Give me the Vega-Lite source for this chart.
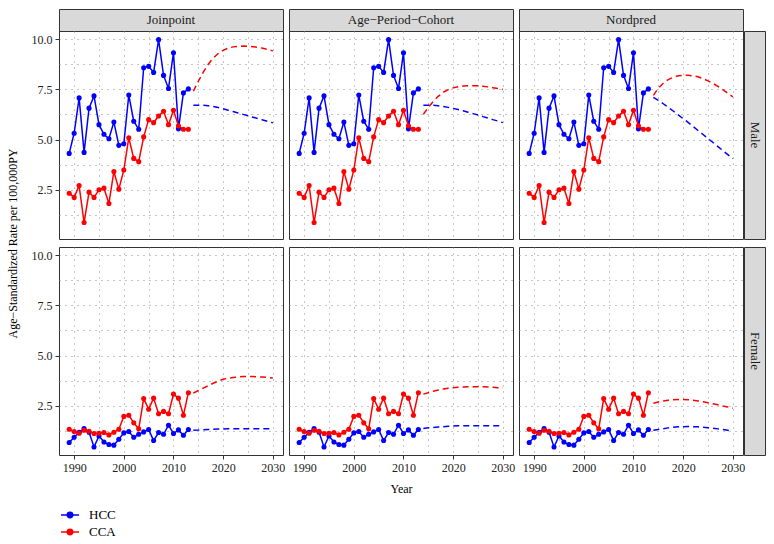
{
  "$schema": "https://vega.github.io/schema/vega-lite/v6.json",
  "padding": {"left": 5, "top": 8, "right": 5, "bottom": 5},
  "background": "white",
  "data": {"values": [
    {"model":"Observed","sex":"Male","year":1989,"HCC":4.31,"CCA":2.33},
    {"model":"Observed","sex":"Male","year":1990,"HCC":5.31,"CCA":2.12},
    {"model":"Observed","sex":"Male","year":1991,"HCC":7.07,"CCA":2.71},
    {"model":"Observed","sex":"Male","year":1992,"HCC":4.36,"CCA":0.87},
    {"model":"Observed","sex":"Male","year":1993,"HCC":6.56,"CCA":2.38},
    {"model":"Observed","sex":"Male","year":1994,"HCC":7.17,"CCA":2.12},
    {"model":"Observed","sex":"Male","year":1995,"HCC":5.74,"CCA":2.50},
    {"model":"Observed","sex":"Male","year":1996,"HCC":5.26,"CCA":2.58},
    {"model":"Observed","sex":"Male","year":1997,"HCC":5.04,"CCA":1.82},
    {"model":"Observed","sex":"Male","year":1998,"HCC":5.87,"CCA":3.41},
    {"model":"Observed","sex":"Male","year":1999,"HCC":4.71,"CCA":2.53},
    {"model":"Observed","sex":"Male","year":2000,"HCC":4.79,"CCA":3.48},
    {"model":"Observed","sex":"Male","year":2001,"HCC":7.21,"CCA":5.09},
    {"model":"Observed","sex":"Male","year":2002,"HCC":5.91,"CCA":4.06},
    {"model":"Observed","sex":"Male","year":2003,"HCC":5.51,"CCA":3.90},
    {"model":"Observed","sex":"Male","year":2004,"HCC":8.57,"CCA":5.13},
    {"model":"Observed","sex":"Male","year":2005,"HCC":8.64,"CCA":5.99},
    {"model":"Observed","sex":"Male","year":2006,"HCC":8.34,"CCA":5.84},
    {"model":"Observed","sex":"Male","year":2007,"HCC":9.97,"CCA":6.17},
    {"model":"Observed","sex":"Male","year":2008,"HCC":8.19,"CCA":6.41},
    {"model":"Observed","sex":"Male","year":2009,"HCC":7.54,"CCA":5.74},
    {"model":"Observed","sex":"Male","year":2010,"HCC":9.32,"CCA":6.46},
    {"model":"Observed","sex":"Male","year":2011,"HCC":5.53,"CCA":5.68},
    {"model":"Observed","sex":"Male","year":2012,"HCC":7.32,"CCA":5.51},
    {"model":"Observed","sex":"Male","year":2013,"HCC":7.52,"CCA":5.51},
    {"model":"Observed","sex":"Female","year":1989,"HCC":0.67,"CCA":1.33},
    {"model":"Observed","sex":"Female","year":1990,"HCC":0.93,"CCA":1.22},
    {"model":"Observed","sex":"Female","year":1991,"HCC":1.18,"CCA":1.13},
    {"model":"Observed","sex":"Female","year":1992,"HCC":1.37,"CCA":1.28},
    {"model":"Observed","sex":"Female","year":1993,"HCC":1.18,"CCA":1.23},
    {"model":"Observed","sex":"Female","year":1994,"HCC":0.45,"CCA":1.12},
    {"model":"Observed","sex":"Female","year":1995,"HCC":1.00,"CCA":1.13},
    {"model":"Observed","sex":"Female","year":1996,"HCC":0.70,"CCA":1.17},
    {"model":"Observed","sex":"Female","year":1997,"HCC":0.57,"CCA":1.05},
    {"model":"Observed","sex":"Female","year":1998,"HCC":0.54,"CCA":1.18},
    {"model":"Observed","sex":"Female","year":1999,"HCC":0.83,"CCA":1.33},
    {"model":"Observed","sex":"Female","year":2000,"HCC":1.15,"CCA":1.97},
    {"model":"Observed","sex":"Female","year":2001,"HCC":1.22,"CCA":2.03},
    {"model":"Observed","sex":"Female","year":2002,"HCC":0.93,"CCA":1.65},
    {"model":"Observed","sex":"Female","year":2003,"HCC":1.08,"CCA":1.35},
    {"model":"Observed","sex":"Female","year":2004,"HCC":1.20,"CCA":2.86},
    {"model":"Observed","sex":"Female","year":2005,"HCC":1.32,"CCA":2.33},
    {"model":"Observed","sex":"Female","year":2006,"HCC":0.77,"CCA":2.88},
    {"model":"Observed","sex":"Female","year":2007,"HCC":1.17,"CCA":2.10},
    {"model":"Observed","sex":"Female","year":2008,"HCC":1.08,"CCA":2.22},
    {"model":"Observed","sex":"Female","year":2009,"HCC":1.53,"CCA":2.10},
    {"model":"Observed","sex":"Female","year":2010,"HCC":1.12,"CCA":3.08},
    {"model":"Observed","sex":"Female","year":2011,"HCC":1.30,"CCA":2.88},
    {"model":"Observed","sex":"Female","year":2012,"HCC":1.03,"CCA":2.03},
    {"model":"Observed","sex":"Female","year":2013,"HCC":1.32,"CCA":3.15},

    {"model":"Joinpoint","sex":"Male","year":2014,"HCC":6.71,"CCA":7.40},
    {"model":"Joinpoint","sex":"Male","year":2015,"HCC":6.71,"CCA":7.90},
    {"model":"Joinpoint","sex":"Male","year":2016,"HCC":6.70,"CCA":8.35},
    {"model":"Joinpoint","sex":"Male","year":2017,"HCC":6.68,"CCA":8.75},
    {"model":"Joinpoint","sex":"Male","year":2018,"HCC":6.64,"CCA":9.05},
    {"model":"Joinpoint","sex":"Male","year":2019,"HCC":6.59,"CCA":9.28},
    {"model":"Joinpoint","sex":"Male","year":2020,"HCC":6.53,"CCA":9.44},
    {"model":"Joinpoint","sex":"Male","year":2021,"HCC":6.46,"CCA":9.55},
    {"model":"Joinpoint","sex":"Male","year":2022,"HCC":6.39,"CCA":9.61},
    {"model":"Joinpoint","sex":"Male","year":2023,"HCC":6.32,"CCA":9.64},
    {"model":"Joinpoint","sex":"Male","year":2024,"HCC":6.25,"CCA":9.65},
    {"model":"Joinpoint","sex":"Male","year":2025,"HCC":6.18,"CCA":9.64},
    {"model":"Joinpoint","sex":"Male","year":2026,"HCC":6.11,"CCA":9.62},
    {"model":"Joinpoint","sex":"Male","year":2027,"HCC":6.04,"CCA":9.59},
    {"model":"Joinpoint","sex":"Male","year":2028,"HCC":5.97,"CCA":9.54},
    {"model":"Joinpoint","sex":"Male","year":2029,"HCC":5.90,"CCA":9.48},
    {"model":"Joinpoint","sex":"Male","year":2030,"HCC":5.83,"CCA":9.41},

    {"model":"Age−Period−Cohort","sex":"Male","year":2014,"HCC":6.71,"CCA":6.25},
    {"model":"Age−Period−Cohort","sex":"Male","year":2015,"HCC":6.71,"CCA":6.60},
    {"model":"Age−Period−Cohort","sex":"Male","year":2016,"HCC":6.70,"CCA":6.90},
    {"model":"Age−Period−Cohort","sex":"Male","year":2017,"HCC":6.68,"CCA":7.15},
    {"model":"Age−Period−Cohort","sex":"Male","year":2018,"HCC":6.64,"CCA":7.35},
    {"model":"Age−Period−Cohort","sex":"Male","year":2019,"HCC":6.60,"CCA":7.48},
    {"model":"Age−Period−Cohort","sex":"Male","year":2020,"HCC":6.55,"CCA":7.57},
    {"model":"Age−Period−Cohort","sex":"Male","year":2021,"HCC":6.49,"CCA":7.63},
    {"model":"Age−Period−Cohort","sex":"Male","year":2022,"HCC":6.43,"CCA":7.66},
    {"model":"Age−Period−Cohort","sex":"Male","year":2023,"HCC":6.36,"CCA":7.68},
    {"model":"Age−Period−Cohort","sex":"Male","year":2024,"HCC":6.29,"CCA":7.68},
    {"model":"Age−Period−Cohort","sex":"Male","year":2025,"HCC":6.22,"CCA":7.67},
    {"model":"Age−Period−Cohort","sex":"Male","year":2026,"HCC":6.14,"CCA":7.65},
    {"model":"Age−Period−Cohort","sex":"Male","year":2027,"HCC":6.07,"CCA":7.62},
    {"model":"Age−Period−Cohort","sex":"Male","year":2028,"HCC":5.99,"CCA":7.58},
    {"model":"Age−Period−Cohort","sex":"Male","year":2029,"HCC":5.92,"CCA":7.54},
    {"model":"Age−Period−Cohort","sex":"Male","year":2030,"HCC":5.84,"CCA":7.49},

    {"model":"Nordpred","sex":"Male","year":2014,"HCC":7.10,"CCA":7.20},
    {"model":"Nordpred","sex":"Male","year":2015,"HCC":6.95,"CCA":7.55},
    {"model":"Nordpred","sex":"Male","year":2016,"HCC":6.78,"CCA":7.80},
    {"model":"Nordpred","sex":"Male","year":2017,"HCC":6.60,"CCA":7.98},
    {"model":"Nordpred","sex":"Male","year":2018,"HCC":6.42,"CCA":8.10},
    {"model":"Nordpred","sex":"Male","year":2019,"HCC":6.23,"CCA":8.17},
    {"model":"Nordpred","sex":"Male","year":2020,"HCC":6.04,"CCA":8.20},
    {"model":"Nordpred","sex":"Male","year":2021,"HCC":5.85,"CCA":8.20},
    {"model":"Nordpred","sex":"Male","year":2022,"HCC":5.65,"CCA":8.17},
    {"model":"Nordpred","sex":"Male","year":2023,"HCC":5.45,"CCA":8.12},
    {"model":"Nordpred","sex":"Male","year":2024,"HCC":5.25,"CCA":8.03},
    {"model":"Nordpred","sex":"Male","year":2025,"HCC":5.05,"CCA":7.92},
    {"model":"Nordpred","sex":"Male","year":2026,"HCC":4.85,"CCA":7.79},
    {"model":"Nordpred","sex":"Male","year":2027,"HCC":4.65,"CCA":7.65},
    {"model":"Nordpred","sex":"Male","year":2028,"HCC":4.45,"CCA":7.48},
    {"model":"Nordpred","sex":"Male","year":2029,"HCC":4.25,"CCA":7.30},
    {"model":"Nordpred","sex":"Male","year":2030,"HCC":4.05,"CCA":7.12},

    {"model":"Joinpoint","sex":"Female","year":2014,"HCC":1.28,"CCA":3.13},
    {"model":"Joinpoint","sex":"Female","year":2015,"HCC":1.29,"CCA":3.26},
    {"model":"Joinpoint","sex":"Female","year":2016,"HCC":1.31,"CCA":3.38},
    {"model":"Joinpoint","sex":"Female","year":2017,"HCC":1.32,"CCA":3.50},
    {"model":"Joinpoint","sex":"Female","year":2018,"HCC":1.33,"CCA":3.62},
    {"model":"Joinpoint","sex":"Female","year":2019,"HCC":1.34,"CCA":3.73},
    {"model":"Joinpoint","sex":"Female","year":2020,"HCC":1.34,"CCA":3.82},
    {"model":"Joinpoint","sex":"Female","year":2021,"HCC":1.35,"CCA":3.87},
    {"model":"Joinpoint","sex":"Female","year":2022,"HCC":1.35,"CCA":3.91},
    {"model":"Joinpoint","sex":"Female","year":2023,"HCC":1.35,"CCA":3.93},
    {"model":"Joinpoint","sex":"Female","year":2024,"HCC":1.35,"CCA":3.95},
    {"model":"Joinpoint","sex":"Female","year":2025,"HCC":1.35,"CCA":3.95},
    {"model":"Joinpoint","sex":"Female","year":2026,"HCC":1.35,"CCA":3.95},
    {"model":"Joinpoint","sex":"Female","year":2027,"HCC":1.35,"CCA":3.94},
    {"model":"Joinpoint","sex":"Female","year":2028,"HCC":1.35,"CCA":3.93},
    {"model":"Joinpoint","sex":"Female","year":2029,"HCC":1.35,"CCA":3.91},
    {"model":"Joinpoint","sex":"Female","year":2030,"HCC":1.35,"CCA":3.88},

    {"model":"Age−Period−Cohort","sex":"Female","year":2014,"HCC":1.37,"CCA":3.08},
    {"model":"Age−Period−Cohort","sex":"Female","year":2015,"HCC":1.40,"CCA":3.15},
    {"model":"Age−Period−Cohort","sex":"Female","year":2016,"HCC":1.42,"CCA":3.22},
    {"model":"Age−Period−Cohort","sex":"Female","year":2017,"HCC":1.44,"CCA":3.28},
    {"model":"Age−Period−Cohort","sex":"Female","year":2018,"HCC":1.46,"CCA":3.33},
    {"model":"Age−Period−Cohort","sex":"Female","year":2019,"HCC":1.48,"CCA":3.37},
    {"model":"Age−Period−Cohort","sex":"Female","year":2020,"HCC":1.49,"CCA":3.40},
    {"model":"Age−Period−Cohort","sex":"Female","year":2021,"HCC":1.50,"CCA":3.42},
    {"model":"Age−Period−Cohort","sex":"Female","year":2022,"HCC":1.50,"CCA":3.43},
    {"model":"Age−Period−Cohort","sex":"Female","year":2023,"HCC":1.51,"CCA":3.44},
    {"model":"Age−Period−Cohort","sex":"Female","year":2024,"HCC":1.51,"CCA":3.45},
    {"model":"Age−Period−Cohort","sex":"Female","year":2025,"HCC":1.51,"CCA":3.45},
    {"model":"Age−Period−Cohort","sex":"Female","year":2026,"HCC":1.51,"CCA":3.44},
    {"model":"Age−Period−Cohort","sex":"Female","year":2027,"HCC":1.51,"CCA":3.43},
    {"model":"Age−Period−Cohort","sex":"Female","year":2028,"HCC":1.50,"CCA":3.42},
    {"model":"Age−Period−Cohort","sex":"Female","year":2029,"HCC":1.50,"CCA":3.40},
    {"model":"Age−Period−Cohort","sex":"Female","year":2030,"HCC":1.50,"CCA":3.38},

    {"model":"Nordpred","sex":"Female","year":2014,"HCC":1.28,"CCA":2.63},
    {"model":"Nordpred","sex":"Female","year":2015,"HCC":1.32,"CCA":2.69},
    {"model":"Nordpred","sex":"Female","year":2016,"HCC":1.36,"CCA":2.74},
    {"model":"Nordpred","sex":"Female","year":2017,"HCC":1.40,"CCA":2.78},
    {"model":"Nordpred","sex":"Female","year":2018,"HCC":1.43,"CCA":2.80},
    {"model":"Nordpred","sex":"Female","year":2019,"HCC":1.45,"CCA":2.81},
    {"model":"Nordpred","sex":"Female","year":2020,"HCC":1.46,"CCA":2.81},
    {"model":"Nordpred","sex":"Female","year":2021,"HCC":1.47,"CCA":2.80},
    {"model":"Nordpred","sex":"Female","year":2022,"HCC":1.46,"CCA":2.77},
    {"model":"Nordpred","sex":"Female","year":2023,"HCC":1.45,"CCA":2.74},
    {"model":"Nordpred","sex":"Female","year":2024,"HCC":1.43,"CCA":2.70},
    {"model":"Nordpred","sex":"Female","year":2025,"HCC":1.41,"CCA":2.65},
    {"model":"Nordpred","sex":"Female","year":2026,"HCC":1.38,"CCA":2.60},
    {"model":"Nordpred","sex":"Female","year":2027,"HCC":1.35,"CCA":2.55},
    {"model":"Nordpred","sex":"Female","year":2028,"HCC":1.32,"CCA":2.49},
    {"model":"Nordpred","sex":"Female","year":2029,"HCC":1.28,"CCA":2.44},
    {"model":"Nordpred","sex":"Female","year":2030,"HCC":1.25,"CCA":2.38}
  ]},
  "columns": 6,
  "spacing": {"row": 0, "column": 1},
  "bounds": "flush",
  "align": "each",
  "concat": [
    {"width":224,"height":22,"data":{"values":[{"label":"Joinpoint"}]},"view":{"fill":"#D9D9D9","stroke":"#333333"},"mark":{"type":"text","font":"Liberation Serif","fontSize":13,"color":"#1A1A1A"},"encoding":{"text":{"field":"label"}}},
    {"width":4,"height":8,"data":{"values":[]},"mark":"point","encoding":{}},
    {"width":224,"height":22,"data":{"values":[{"label":"Age−Period−Cohort"}]},"view":{"fill":"#D9D9D9","stroke":"#333333"},"mark":{"type":"text","font":"Liberation Serif","fontSize":13,"color":"#1A1A1A"},"encoding":{"text":{"field":"label"}}},
    {"width":4,"height":8,"data":{"values":[]},"mark":"point","encoding":{}},
    {"width":224,"height":22,"data":{"values":[{"label":"Nordpred"}]},"view":{"fill":"#D9D9D9","stroke":"#333333"},"mark":{"type":"text","font":"Liberation Serif","fontSize":13,"color":"#1A1A1A"},"encoding":{"text":{"field":"label"}}},
    {"width":4,"height":8,"data":{"values":[]},"mark":"point","encoding":{}},

    {"width":224,"height":208,"view":{"stroke":"#333333"},
     "transform":[{"filter":"datum.sex == 'Male' && (datum.model == 'Observed' || datum.model == 'Joinpoint')"},{"fold":["HCC","CCA"],"as":["type","rate"]}],
     "encoding":{
       "x":{"field":"year","type":"quantitative","scale":{"domain":[1986.95,2032.05],"nice":false,"zero":false},"axis":{"values":[1990,1995,2000,2005,2010,2015,2020,2025,2030],"labels":false,"ticks":false,"title":null}},
       "y":{"field":"rate","type":"quantitative","scale":{"domain":[0.05,10.4],"nice":false,"zero":false},"axis":{"values":[1.25,2.5,3.75,5,6.25,7.5,8.75,10],"format":".1f","labelExpr":"datum.value % 2.5 == 0 ? datum.label : ''","tickOpacity":{"condition":{"test":"datum.value % 2.5 != 0","value":0},"value":1},"title":"Age−Standardized Rate per 100,000PY","titleY":212,"titlePadding":12}},
       "color":{"field":"type","type":"nominal","scale":{"domain":["HCC","CCA"],"range":["#0000FF","#FF0000"]},
         "legend":{"orient":"none","legendX":1,"legendY":496,"title":null,"direction":"vertical","symbolType":"M-1,0L1,0M-0.3,0A0.3,0.3,0,1,1,0.3,0A0.3,0.3,0,1,1,-0.3,0Z","symbolSize":324,"symbolStrokeWidth":1.5,"labelFont":"Liberation Serif","labelFontSize":13,"labelColor":"#000000","labelOffset":9,"rowPadding":0,"padding":0,
           "encode":{"symbols":{"update":{"fill":{"scale":"color","field":"value"},"stroke":{"scale":"color","field":"value"},"opacity":{"value":1}}}}}}
     },
     "layer":[
       {"transform":[{"filter":"datum.model == 'Observed'"}],"mark":{"type":"line","strokeWidth":1.5}},
       {"transform":[{"filter":"datum.model != 'Observed'"}],"mark":{"type":"line","strokeWidth":1.5,"strokeDash":[6,4]}},
       {"transform":[{"filter":"datum.model == 'Observed'"}],"mark":{"type":"point","filled":true,"size":26,"opacity":1}}
     ]},
    {"width":4,"height":8,"data":{"values":[]},"mark":"point","encoding":{}},
    {"width":224,"height":208,"view":{"stroke":"#333333"},
     "transform":[{"filter":"datum.sex == 'Male' && (datum.model == 'Observed' || datum.model == 'Age−Period−Cohort')"},{"fold":["HCC","CCA"],"as":["type","rate"]}],
     "encoding":{
       "x":{"field":"year","type":"quantitative","scale":{"domain":[1986.95,2032.05],"nice":false,"zero":false},"axis":{"values":[1990,1995,2000,2005,2010,2015,2020,2025,2030],"labels":false,"ticks":false,"title":null}},
       "y":{"field":"rate","type":"quantitative","scale":{"domain":[0.05,10.4],"nice":false,"zero":false},"axis":{"values":[1.25,2.5,3.75,5,6.25,7.5,8.75,10],"labels":false,"ticks":false,"title":null}},
       "color":{"field":"type","type":"nominal","scale":{"domain":["HCC","CCA"],"range":["#0000FF","#FF0000"]}}
     },
     "layer":[
       {"transform":[{"filter":"datum.model == 'Observed'"}],"mark":{"type":"line","strokeWidth":1.5}},
       {"transform":[{"filter":"datum.model != 'Observed'"}],"mark":{"type":"line","strokeWidth":1.5,"strokeDash":[6,4]}},
       {"transform":[{"filter":"datum.model == 'Observed'"}],"mark":{"type":"point","filled":true,"size":26,"opacity":1}}
     ]},
    {"width":4,"height":8,"data":{"values":[]},"mark":"point","encoding":{}},
    {"width":224,"height":208,"view":{"stroke":"#333333"},
     "transform":[{"filter":"datum.sex == 'Male' && (datum.model == 'Observed' || datum.model == 'Nordpred')"},{"fold":["HCC","CCA"],"as":["type","rate"]}],
     "encoding":{
       "x":{"field":"year","type":"quantitative","scale":{"domain":[1986.95,2032.05],"nice":false,"zero":false},"axis":{"values":[1990,1995,2000,2005,2010,2015,2020,2025,2030],"labels":false,"ticks":false,"title":null}},
       "y":{"field":"rate","type":"quantitative","scale":{"domain":[0.05,10.4],"nice":false,"zero":false},"axis":{"values":[1.25,2.5,3.75,5,6.25,7.5,8.75,10],"labels":false,"ticks":false,"title":null}},
       "color":{"field":"type","type":"nominal","scale":{"domain":["HCC","CCA"],"range":["#0000FF","#FF0000"]}}
     },
     "layer":[
       {"transform":[{"filter":"datum.model == 'Observed'"}],"mark":{"type":"line","strokeWidth":1.5}},
       {"transform":[{"filter":"datum.model != 'Observed'"}],"mark":{"type":"line","strokeWidth":1.5,"strokeDash":[6,4]}},
       {"transform":[{"filter":"datum.model == 'Observed'"}],"mark":{"type":"point","filled":true,"size":26,"opacity":1}}
     ]},
    {"width":21,"height":208,"data":{"values":[{"label":"Male"}]},"view":{"fill":"#D9D9D9","stroke":"#333333"},"mark":{"type":"text","font":"Liberation Serif","fontSize":13,"color":"#1A1A1A","angle":90},"encoding":{"text":{"field":"label"}}},

    {"width":4,"height":8,"data":{"values":[]},"mark":"point","encoding":{}},
    {"width":4,"height":8,"data":{"values":[]},"mark":"point","encoding":{}},
    {"width":4,"height":8,"data":{"values":[]},"mark":"point","encoding":{}},
    {"width":4,"height":8,"data":{"values":[]},"mark":"point","encoding":{}},
    {"width":4,"height":8,"data":{"values":[]},"mark":"point","encoding":{}},
    {"width":4,"height":8,"data":{"values":[]},"mark":"point","encoding":{}},

    {"width":224,"height":208,"view":{"stroke":"#333333"},
     "transform":[{"filter":"datum.sex == 'Female' && (datum.model == 'Observed' || datum.model == 'Joinpoint')"},{"fold":["HCC","CCA"],"as":["type","rate"]}],
     "encoding":{
       "x":{"field":"year","type":"quantitative","scale":{"domain":[1986.95,2032.05],"nice":false,"zero":false},"axis":{"values":[1990,1995,2000,2005,2010,2015,2020,2025,2030],"format":"d","labelExpr":"datum.value % 10 == 0 ? datum.label : ''","tickOpacity":{"condition":{"test":"datum.value % 10 != 0","value":0},"value":1},"title":null}},
       "y":{"field":"rate","type":"quantitative","scale":{"domain":[0.05,10.4],"nice":false,"zero":false},"axis":{"values":[1.25,2.5,3.75,5,6.25,7.5,8.75,10],"format":".1f","labelExpr":"datum.value % 2.5 == 0 ? datum.label : ''","tickOpacity":{"condition":{"test":"datum.value % 2.5 != 0","value":0},"value":1},"title":null}},
       "color":{"field":"type","type":"nominal","scale":{"domain":["HCC","CCA"],"range":["#0000FF","#FF0000"]}}
     },
     "layer":[
       {"transform":[{"filter":"datum.model == 'Observed'"}],"mark":{"type":"line","strokeWidth":1.5}},
       {"transform":[{"filter":"datum.model != 'Observed'"}],"mark":{"type":"line","strokeWidth":1.5,"strokeDash":[6,4]}},
       {"transform":[{"filter":"datum.model == 'Observed'"}],"mark":{"type":"point","filled":true,"size":26,"opacity":1}}
     ]},
    {"width":4,"height":8,"data":{"values":[]},"mark":"point","encoding":{}},
    {"width":224,"height":208,"view":{"stroke":"#333333"},
     "transform":[{"filter":"datum.sex == 'Female' && (datum.model == 'Observed' || datum.model == 'Age−Period−Cohort')"},{"fold":["HCC","CCA"],"as":["type","rate"]}],
     "encoding":{
       "x":{"field":"year","type":"quantitative","scale":{"domain":[1986.95,2032.05],"nice":false,"zero":false},"axis":{"values":[1990,1995,2000,2005,2010,2015,2020,2025,2030],"format":"d","labelExpr":"datum.value % 10 == 0 ? datum.label : ''","tickOpacity":{"condition":{"test":"datum.value % 10 != 0","value":0},"value":1},"title":"Year","titlePadding":10}},
       "y":{"field":"rate","type":"quantitative","scale":{"domain":[0.05,10.4],"nice":false,"zero":false},"axis":{"values":[1.25,2.5,3.75,5,6.25,7.5,8.75,10],"labels":false,"ticks":false,"title":null}},
       "color":{"field":"type","type":"nominal","scale":{"domain":["HCC","CCA"],"range":["#0000FF","#FF0000"]}}
     },
     "layer":[
       {"transform":[{"filter":"datum.model == 'Observed'"}],"mark":{"type":"line","strokeWidth":1.5}},
       {"transform":[{"filter":"datum.model != 'Observed'"}],"mark":{"type":"line","strokeWidth":1.5,"strokeDash":[6,4]}},
       {"transform":[{"filter":"datum.model == 'Observed'"}],"mark":{"type":"point","filled":true,"size":26,"opacity":1}}
     ]},
    {"width":4,"height":8,"data":{"values":[]},"mark":"point","encoding":{}},
    {"width":224,"height":208,"view":{"stroke":"#333333"},
     "transform":[{"filter":"datum.sex == 'Female' && (datum.model == 'Observed' || datum.model == 'Nordpred')"},{"fold":["HCC","CCA"],"as":["type","rate"]}],
     "encoding":{
       "x":{"field":"year","type":"quantitative","scale":{"domain":[1986.95,2032.05],"nice":false,"zero":false},"axis":{"values":[1990,1995,2000,2005,2010,2015,2020,2025,2030],"format":"d","labelExpr":"datum.value % 10 == 0 ? datum.label : ''","tickOpacity":{"condition":{"test":"datum.value % 10 != 0","value":0},"value":1},"title":null}},
       "y":{"field":"rate","type":"quantitative","scale":{"domain":[0.05,10.4],"nice":false,"zero":false},"axis":{"values":[1.25,2.5,3.75,5,6.25,7.5,8.75,10],"labels":false,"ticks":false,"title":null}},
       "color":{"field":"type","type":"nominal","scale":{"domain":["HCC","CCA"],"range":["#0000FF","#FF0000"]}}
     },
     "layer":[
       {"transform":[{"filter":"datum.model == 'Observed'"}],"mark":{"type":"line","strokeWidth":1.5}},
       {"transform":[{"filter":"datum.model != 'Observed'"}],"mark":{"type":"line","strokeWidth":1.5,"strokeDash":[6,4]}},
       {"transform":[{"filter":"datum.model == 'Observed'"}],"mark":{"type":"point","filled":true,"size":26,"opacity":1}}
     ]},
    {"width":21,"height":208,"data":{"values":[{"label":"Female"}]},"view":{"fill":"#D9D9D9","stroke":"#333333"},"mark":{"type":"text","font":"Liberation Serif","fontSize":13,"color":"#1A1A1A","angle":90},"encoding":{"text":{"field":"label"}}}
  ],
  "config": {
    "font": "Liberation Serif",
    "view": {"stroke": null},
    "axis": {"domain": false, "grid": true, "gridColor": "#8a8a8a", "gridDash": [1, 5], "gridWidth": 1, "labelFont": "Liberation Serif", "labelFontSize": 12, "labelColor": "#222222", "tickColor": "#333333", "tickSize": 4, "labelPadding": 3, "titleFont": "Liberation Serif", "titleFontSize": 12, "titleFontWeight": "normal", "titleColor": "#000000"}
  }
}
